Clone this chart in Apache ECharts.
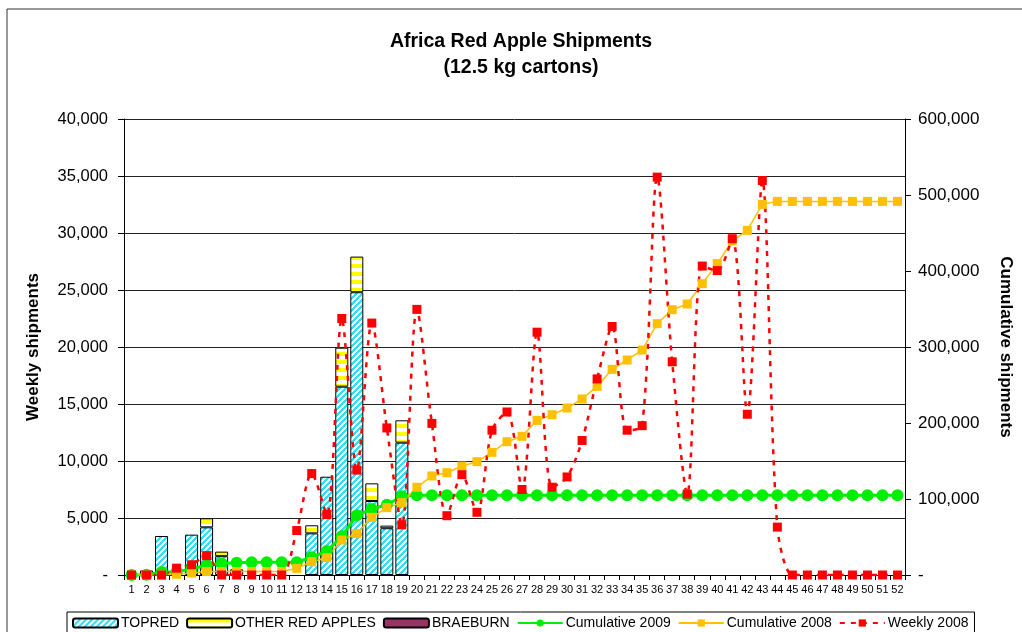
<!DOCTYPE html>
<html>
<head>
<meta charset="utf-8">
<script src="https://cdn.jsdelivr.net/npm/echarts@6/dist/echarts.min.js"></script>
<style>
html,body{margin:0;padding:0;background:#fff;}
#chart{width:1022px;height:632px;}
</style>
</head>
<body>
<div id="chart"></div>
<script>
const weeks = ['1','2','3','4','5','6','7','8','9','10','11','12','13','14','15','16','17','18','19','20','21','22','23','24','25','26','27','28','29','30','31','32','33','34','35','36','37','38','39','40','41','42','43','44','45','46','47','48','49','50','51','52'];

const topred = [0,400,3420,0,3540,4180,1650,500,0,0,0,0,3650,8620,16520,24800,6490,4100,11610,0,0,0,0,0,0,0,0,0,0,0,0,0,0,0,0,0,0,0,0,0,0,0,0,0,0,0,0,0,0,0,0,0];
const otherRed = [0,0,0,0,0,790,400,0,0,0,0,0,710,0,3420,3130,1550,230,1960,0,0,0,0,0,0,0,0,0,0,0,0,0,0,0,0,0,0,0,0,0,0,0,0,0,0,0,0,0,0,0,0,0];
const braeburn = [0,0,0,0,0,0,0,0,0,0,0,0,0,0,0,0,0,0,0,0,0,0,0,0,0,0,0,0,0,0,0,0,0,0,0,0,0,0,0,0,0,0,0,0,0,0,0,0,0,0,0,0];

const cum2009 = [0,400,4000,4200,7800,12800,15000,16200,16800,16800,16800,16800,23500,31500,51000,78500,87000,92500,103500,105000,105000,105000,105000,105000,105000,105000,105000,105000,105000,105000,105000,105000,105000,105000,105000,105000,105000,105000,105000,105000,105000,105000,105000,105000,105000,105000,105000,105000,105000,105000,105000,105000];
const cum2008 = [0,0,0,1000,2500,4500,4500,4500,4500,4500,4500,8800,17500,22800,46000,54400,75900,88600,95200,115400,130300,134600,143400,149100,161400,175400,182500,203500,210900,219700,231600,248200,270600,282900,296000,330700,349100,356600,383300,409700,439500,453500,487700,491600,491600,491600,491600,491600,491600,491600,491600,491600];
const weekly2008 = [0,0,0,600,900,1700,0,0,0,0,0,3900,8900,5300,22500,9200,22100,12900,4400,23300,13300,5200,8800,5500,12700,14300,7500,21300,7700,8600,11800,17200,21800,12700,13100,34900,18700,7100,27100,26700,29500,14100,34600,4200,0,0,0,0,0,0,0,0];

const leftTicks = {min:0, max:40000, interval:5000};
const rightTicks = {min:0, max:600000, interval:100000};

function makePattern(kind){
  const size = kind === 'diag' ? 6 : 8;
  const c = document.createElement('canvas');
  c.width = size; c.height = size;
  const ctx = c.getContext('2d');
  const img = ctx.createImageData(size, size);
  for (let y = 0; y < size; y++) {
    for (let x = 0; x < size; x++) {
      let on, col;
      if (kind === 'diag') { on = ((x + y) % 6) < 3; col = [51,221,245]; }
      else { on = (y % 8) < 4; col = [255,255,0]; }
      const i = (y * size + x) * 4;
      const cc = on ? col : [255,255,255];
      img.data[i]=cc[0]; img.data[i+1]=cc[1]; img.data[i+2]=cc[2]; img.data[i+3]=255;
    }
  }
  ctx.putImageData(img, 0, 0);
  return {image: c, repeat: 'repeat'};
}

const noZero = arr => arr.map(v => v === 0 ? '-' : v);
const fmt = v => v === 0 ? '-' : v.toLocaleString('en-US');
const FONT = '"Liberation Sans", Arial, sans-serif';

const chart = echarts.init(document.getElementById('chart'), null, {renderer:'canvas'});
const barStyle = {borderColor:'#000', borderWidth:1};

chart.setOption({
  animation: false,
  textStyle: {fontFamily: FONT, color:'#000'},
  graphic: [{
    type:'rect', shape:{x:7, y:9, width:1040, height:660},
    style:{fill:'none', stroke:'#333', lineWidth:1}, silent:true, z:-10
  }],
  title: {
    text: 'Africa Red Apple Shipments\n(12.5 kg cartons)',
    left: 516, top: 24, textAlign: 'center',
    textStyle: {fontFamily: FONT, fontSize: 19.5, fontWeight: 'bold', color:'#000', lineHeight: 26}
  },
  legend: {
    left: 67, top: 612,
    padding: [4, 6, 6, 5],
    borderColor: '#000', borderWidth: 1,
    itemWidth: 45, itemHeight: 9, itemGap: 7,
    textStyle: {fontFamily: FONT, fontSize: 14, color:'#000', padding:[0,0,0,-2]},
    data: ['TOPRED','OTHER RED APPLES','BRAEBURN','Cumulative 2009','Cumulative 2008','Weekly 2008']
  },
  grid: {left: 124, right: 114, top: 119, bottom: 57},
  xAxis: {
    type: 'category', data: weeks, boundaryGap: true,
    axisLine: {show:true, lineStyle:{color:'#000', width:1}},
    axisTick: {show:true, alignWithLabel:false, length:5, lineStyle:{color:'#000'}},
    axisLabel: {interval:0, fontSize:11, margin:9, color:'#000', fontFamily: FONT}
  },
  yAxis: [{
    type: 'value', min: leftTicks.min, max: leftTicks.max, interval: leftTicks.interval,
    name: 'Weekly shipments', nameLocation: 'middle', nameGap: 82, nameRotate: 90,
    nameTextStyle: {fontFamily: FONT, fontSize: 17, fontWeight:'bold', color:'#000'},
    axisLine: {show:true, lineStyle:{color:'#000'}},
    axisTick: {show:true, length:6, lineStyle:{color:'#000'}},
    axisLabel: {formatter: fmt, fontSize: 16.5, margin: 16, color:'#000', fontFamily: FONT},
    splitLine: {show:true, lineStyle:{color:'#222', width:1}}
  },{
    type: 'value', min: rightTicks.min, max: rightTicks.max, interval: rightTicks.interval,
    name: 'Cumulative shipments', nameLocation: 'middle', nameGap: 92, nameRotate: -90,
    nameTextStyle: {fontFamily: FONT, fontSize: 17, fontWeight:'bold', color:'#000'},
    axisLine: {show:true, lineStyle:{color:'#000'}},
    axisTick: {show:true, length:6, lineStyle:{color:'#000'}},
    axisLabel: {formatter: fmt, fontSize: 17, margin: 13, color:'#000', fontFamily: FONT},
    splitLine: {show:false}
  }],
  series: [
    {name:'TOPRED', type:'bar', stack:'w', barWidth:13, yAxisIndex:0, data: noZero(topred),
     itemStyle: Object.assign({color: makePattern('diag')}, barStyle)},
    {name:'OTHER RED APPLES', type:'bar', stack:'w', barWidth:13, yAxisIndex:0, data: noZero(otherRed),
     itemStyle: Object.assign({color: makePattern('horiz')}, barStyle)},
    {name:'BRAEBURN', type:'bar', stack:'w', barWidth:13, yAxisIndex:0, data: noZero(braeburn),
     itemStyle: Object.assign({color: '#993366'}, barStyle)},
    {name:'Cumulative 2009', type:'line', yAxisIndex:1, data: cum2009,
     symbol:'circle', symbolSize:12, lineStyle:{color:'#00EE00', width:3},
     itemStyle:{color:'#00EE00'}},
    {name:'Cumulative 2008', type:'line', yAxisIndex:1, data: cum2008,
     symbol:'rect', symbolSize:9, lineStyle:{color:'#FFC000', width:1.5},
     itemStyle:{color:'#FFC000'}},
    {name:'Weekly 2008', type:'line', yAxisIndex:0, data: weekly2008, smooth:0.3,
     symbol:'rect', symbolSize:9, lineStyle:{color:'#FF0000', width:2.5, type:[5,6]},
     itemStyle:{color:'#FF0000'}}
  ]
});
</script>
</body>
</html>
